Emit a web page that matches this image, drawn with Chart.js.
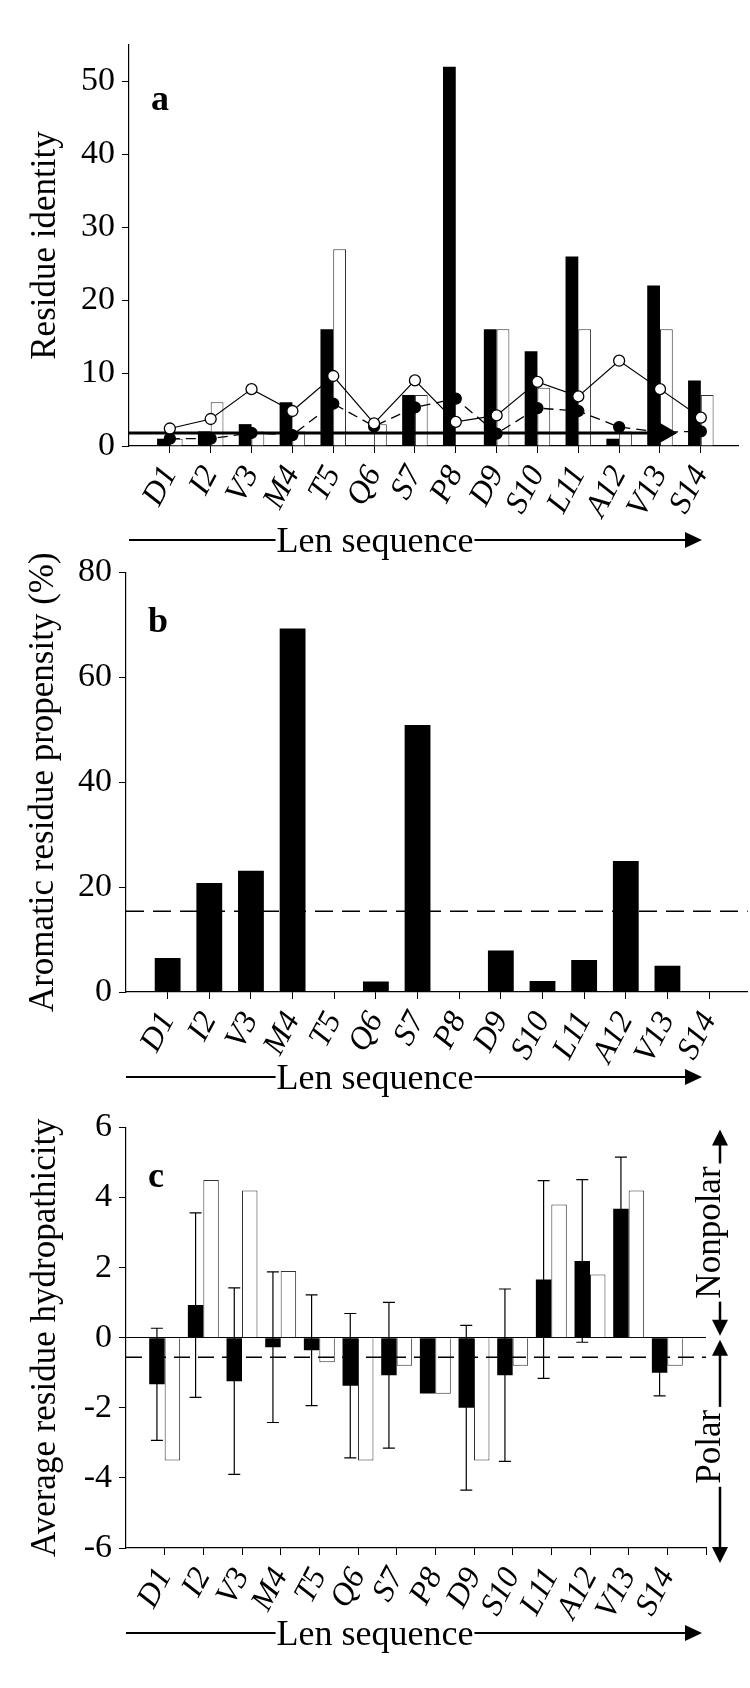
<!DOCTYPE html>
<html>
<head>
<meta charset="utf-8">
<script src="https://cdn.jsdelivr.net/npm/chart.js@4.4.1/dist/chart.umd.min.js"></script>
<style>
  body { margin: 0; background: #fff; }
  canvas { position: absolute; left: 0; }
</style>
</head>
<body>
<canvas id="chartA" width="750" height="565" style="top:0px"></canvas>
<canvas id="chartB" width="750" height="560" style="top:545px"></canvas>
<canvas id="chartC" width="750" height="588" style="top:1100px"></canvas>
<script>
const FONT = '"Liberation Serif", "Times New Roman", serif';

// Len sequence residues
const residues = ['D1', 'I2', 'V3', 'M4', 'T5', 'Q6', 'S7', 'P8', 'D9', 'S10', 'L11', 'A12', 'V13', 'S14'];
const seqLabel = 'Len sequence';

// panel a - residue identity
const identityBlack = [1, 2, 3, 6, 16, 0, 7, 52, 16, 13, 26, 1, 22, 9];
const identityWhite = [1, 6, 2, 2, 27, 3, 7, 0, 16, 8, 16, 2, 16, 7];
const identityOpen = [2.4, 3.7, 7.8, 4.8, 9.6, 3.1, 9.0, 3.3, 4.2, 8.8, 6.8, 11.7, 7.8, 3.9];
const identityFilled = [1.0, 1.0, 1.8, 1.5, 5.8, 2.7, 5.3, 6.5, 1.7, 5.2, 4.8, 2.6, 1.9, 2.0];
const identityBaseline = 1.8;
const identityBaselineEnd = 13.13;
const identityTicks = [0, 10, 20, 30, 40, 50];

// panel b - aromatic residue propensity (%)
const aromatic = [6.5, 20.8, 23.1, 69.3, 0, 2.0, 50.9, 0, 7.9, 2.1, 6.1, 25.0, 5.0, 0];
const aromaticMean = 15.4;
const aromaticTicks = [0, 20, 40, 60, 80];

// panel c - average residue hydropathicity
const hydroBlack = [-1.33, 0.93, -1.24, -0.27, -0.36, -1.37, -1.07, -1.59, -2.0, -1.07, 1.66, 2.19, 3.68, -1.0];
const hydroWhite = [-3.5, 4.5, 4.2, 1.9, -0.7, -3.5, -0.8, -1.6, -3.5, -0.8, 3.8, 1.8, 4.2, -0.8];
const hydroError = [1.6, 2.63, 2.66, 2.15, 1.58, 2.06, 2.08, null, 2.35, 2.46, 2.82, 2.32, 1.47, 0.66];
const hydroMean = -0.56;
const hydroTicks = [-6, -4, -2, 0, 2, 4, 6];

Chart.defaults.font.family = FONT;
Chart.defaults.color = '#000';
Chart.defaults.animation = false;
Chart.defaults.plugins.legend.display = false;
Chart.defaults.plugins.tooltip.enabled = false;

const positions = residues.map((r, i) => i + 1);
const xy = arr => arr.map((v, i) => ({ x: positions[i], y: v }));

function xAxis(max, tickValues, height) {
  return {
    type: 'linear', min: 0, max: max, offset: false,
    grid: { drawOnChartArea: false, tickLength: 7, color: '#000', offset: false },
    border: { color: '#000', width: 1.2 },
    afterBuildTicks: s => { s.ticks = tickValues.map(v => ({ value: v })); },
    afterFit: s => { s.height = height; },
    ticks: {
      autoSkip: false, minRotation: 62, maxRotation: 62, padding: 7,
      font: { size: 32, style: 'italic' },
      callback: v => residues[v - 1] || ''
    }
  };
}

function yAxis(min, max, tickValues, width, title, titlePad) {
  return {
    min: min, max: max,
    afterBuildTicks: s => { s.ticks = tickValues.map(v => ({ value: v })); },
    afterFit: s => { s.width = width; },
    grid: { drawOnChartArea: false, tickLength: 7, color: '#000' },
    border: { color: '#000', width: 1.2 },
    ticks: { padding: 7, font: { size: 34 } },
    title: { display: true, text: title, font: { size: 35 }, padding: { top: titlePad, bottom: 0 } }
  };
}

function refLine(y, xEnd, dash) {
  return {
    type: 'line', data: [{ x: 0, y: y }, { x: xEnd, y: y }],
    borderColor: '#000', borderWidth: 1.5, borderDash: dash, pointRadius: 0, order: 0
  };
}

// panel letter, sequence arrow and polarity arrows
const decor = {
  id: 'decor',
  afterDraw(chart, args, o) {
    const { ctx, chartArea: a } = chart;
    ctx.save();
    ctx.fillStyle = '#000';
    ctx.strokeStyle = '#000';

    ctx.font = 'bold 36px ' + FONT;
    ctx.textAlign = 'left';
    ctx.textBaseline = 'alphabetic';
    ctx.fillText(o.letter, a.left + 22, a.top + o.letterDy);

    const y = a.bottom + o.arrowGap;
    const tip = 702;
    ctx.lineWidth = 2;
    ctx.beginPath();
    ctx.moveTo(a.left, y);
    ctx.lineTo(tip - 15, y);
    ctx.stroke();
    ctx.beginPath();
    ctx.moveTo(tip, y);
    ctx.lineTo(tip - 17, y - 8);
    ctx.lineTo(tip - 17, y + 8);
    ctx.closePath();
    ctx.fill();

    ctx.font = '36px ' + FONT;
    const w = ctx.measureText(seqLabel).width;
    ctx.fillStyle = '#fff';
    ctx.fillRect(375 - w / 2 - 1, y - 4, w + 2, 8);
    ctx.fillStyle = '#000';
    ctx.textAlign = 'center';
    ctx.fillText(seqLabel, 375, y + 12);

    if (o.polar) {
      const ys = chart.scales.y;
      const px = 720;
      const yTop = ys.getPixelForValue(ys.max);
      const yZero = ys.getPixelForValue(0);
      const yBot = ys.getPixelForValue(ys.min);
      const head = (yTip, dir) => {
        ctx.beginPath();
        ctx.moveTo(px, yTip);
        ctx.lineTo(px - 8, yTip - dir * 16);
        ctx.lineTo(px + 8, yTip - dir * 16);
        ctx.closePath();
        ctx.fill();
      };
      ctx.lineWidth = 2.5;
      ctx.beginPath();
      ctx.moveTo(px, yTop + 12);
      ctx.lineTo(px, yZero - 12);
      ctx.moveTo(px, yZero + 12);
      ctx.lineTo(px, yBot + 2);
      ctx.stroke();
      head(yTop + 2, -1);
      head(yZero - 2, 1);
      head(yZero + 2, -1);
      head(yBot + 15, 1);

      ctx.font = '35px ' + FONT;
      const label = (text, cy) => {
        ctx.save();
        ctx.translate(px, cy);
        ctx.rotate(-Math.PI / 2);
        const tw = ctx.measureText(text).width;
        ctx.fillStyle = '#fff';
        ctx.fillRect(-tw / 2 - 3, -3, tw + 6, 6);
        ctx.fillStyle = '#000';
        ctx.textAlign = 'center';
        ctx.fillText(text, 0, 0);
        ctx.restore();
      };
      label('Nonpolar', (yTop + yZero) / 2);
      label('Polar', (yZero + yBot) / 2 + 4);
    }
    ctx.restore();
  }
};

// error bars on the black bars of panel c
const errorBars = {
  id: 'errorBars',
  afterDatasetsDraw(chart, args, o) {
    if (!o.errors) return;
    const { ctx } = chart;
    const ys = chart.scales.y;
    const meta = chart.getDatasetMeta(o.datasetIndex);
    ctx.save();
    ctx.strokeStyle = '#000';
    ctx.lineWidth = 1.2;
    meta.data.forEach((bar, i) => {
      const e = o.errors[i];
      if (e == null) return;
      const hi = ys.getPixelForValue(o.values[i] + e);
      const lo = ys.getPixelForValue(o.values[i] - e);
      ctx.beginPath();
      ctx.moveTo(bar.x, hi); ctx.lineTo(bar.x, lo);
      ctx.moveTo(bar.x - 6, hi); ctx.lineTo(bar.x + 6, hi);
      ctx.moveTo(bar.x - 6, lo); ctx.lineTo(bar.x + 6, lo);
      ctx.stroke();
    });
    ctx.restore();
  }
};

Chart.register(decor, errorBars);

// panel a
new Chart(document.getElementById('chartA'), {
  type: 'bar',
  data: {
    datasets: [
      { type: 'line', data: xy(identityOpen), borderColor: '#000', borderWidth: 1.2,
        pointRadius: 5.5, pointBackgroundColor: '#fff', pointBorderColor: '#000', pointBorderWidth: 1.3, order: 0 },
      { type: 'line', data: xy(identityFilled), borderColor: '#000', borderWidth: 1.3, borderDash: [10, 6],
        pointRadius: 5.5, pointBackgroundColor: '#000', pointBorderColor: '#000', order: 0 },
      { type: 'line', data: [{ x: 0, y: identityBaseline }, { x: identityBaselineEnd, y: identityBaseline }],
        borderColor: '#000', borderWidth: 3, pointRadius: [0, 9], pointStyle: 'triangle', pointRotation: 90,
        pointBackgroundColor: '#000', pointBorderColor: '#000', order: 0 },
      { data: xy(identityBlack), backgroundColor: '#000', categoryPercentage: 0.625, barPercentage: 1, order: 1 },
      { data: xy(identityWhite), backgroundColor: '#fff', borderColor: '#333', borderWidth: 1,
        categoryPercentage: 0.625, barPercentage: 1, order: 1 }
    ]
  },
  options: {
    responsive: false,
    layout: { padding: { top: 45, right: 0, bottom: 0, left: 0 } },
    scales: {
      x: xAxis(14.91, positions, 119),
      y: yAxis(0, 55, identityTicks, 129, 'Residue identity', 25)
    },
    plugins: { decor: { letter: 'a', letterDy: 65, arrowGap: 94 } }
  }
});

// panel b
new Chart(document.getElementById('chartB'), {
  type: 'bar',
  data: {
    datasets: [
      refLine(aromaticMean, 14.93, [18, 9]),
      { data: xy(aromatic), backgroundColor: '#000', categoryPercentage: 0.62, barPercentage: 1, order: 1 }
    ]
  },
  options: {
    responsive: false,
    layout: { padding: { top: 22, right: 0, bottom: 0, left: 0 } },
    scales: {
      x: xAxis(14.93, positions, 113),
      y: yAxis(0, 80, aromaticTicks, 126, 'Aromatic residue propensity (%)', 23)
    },
    plugins: { decor: { letter: 'b', letterDy: 60, arrowGap: 85 } }
  }
});

// panel c
const yC = yAxis(-6, 6, hydroTicks, 126, 'Average residue hydropathicity', 25);
yC.grid = {
  drawOnChartArea: true, tickLength: 7, tickColor: '#000',
  color: c => (c.tick && c.tick.value === 0 ? '#000' : 'rgba(0,0,0,0)')
};
new Chart(document.getElementById('chartC'), {
  type: 'bar',
  data: {
    datasets: [
      refLine(hydroMean, 15, [16, 8]),
      { data: xy(hydroBlack), backgroundColor: '#000', categoryPercentage: 0.8, barPercentage: 1, order: 1 },
      { data: xy(hydroWhite), backgroundColor: '#fff', borderColor: '#333', borderWidth: 1,
        categoryPercentage: 0.8, barPercentage: 1, order: 1 }
    ]
  },
  options: {
    responsive: false,
    layout: { padding: { top: 23, right: 44, bottom: 0, left: 0 } },
    scales: {
      x: xAxis(15, positions.concat([15]), 140),
      y: yC
    },
    plugins: {
      decor: { letter: 'c', letterDy: 60, arrowGap: 85, polar: true },
      errorBars: { datasetIndex: 1, values: hydroBlack, errors: hydroError }
    }
  }
});
</script>
</body>
</html>
